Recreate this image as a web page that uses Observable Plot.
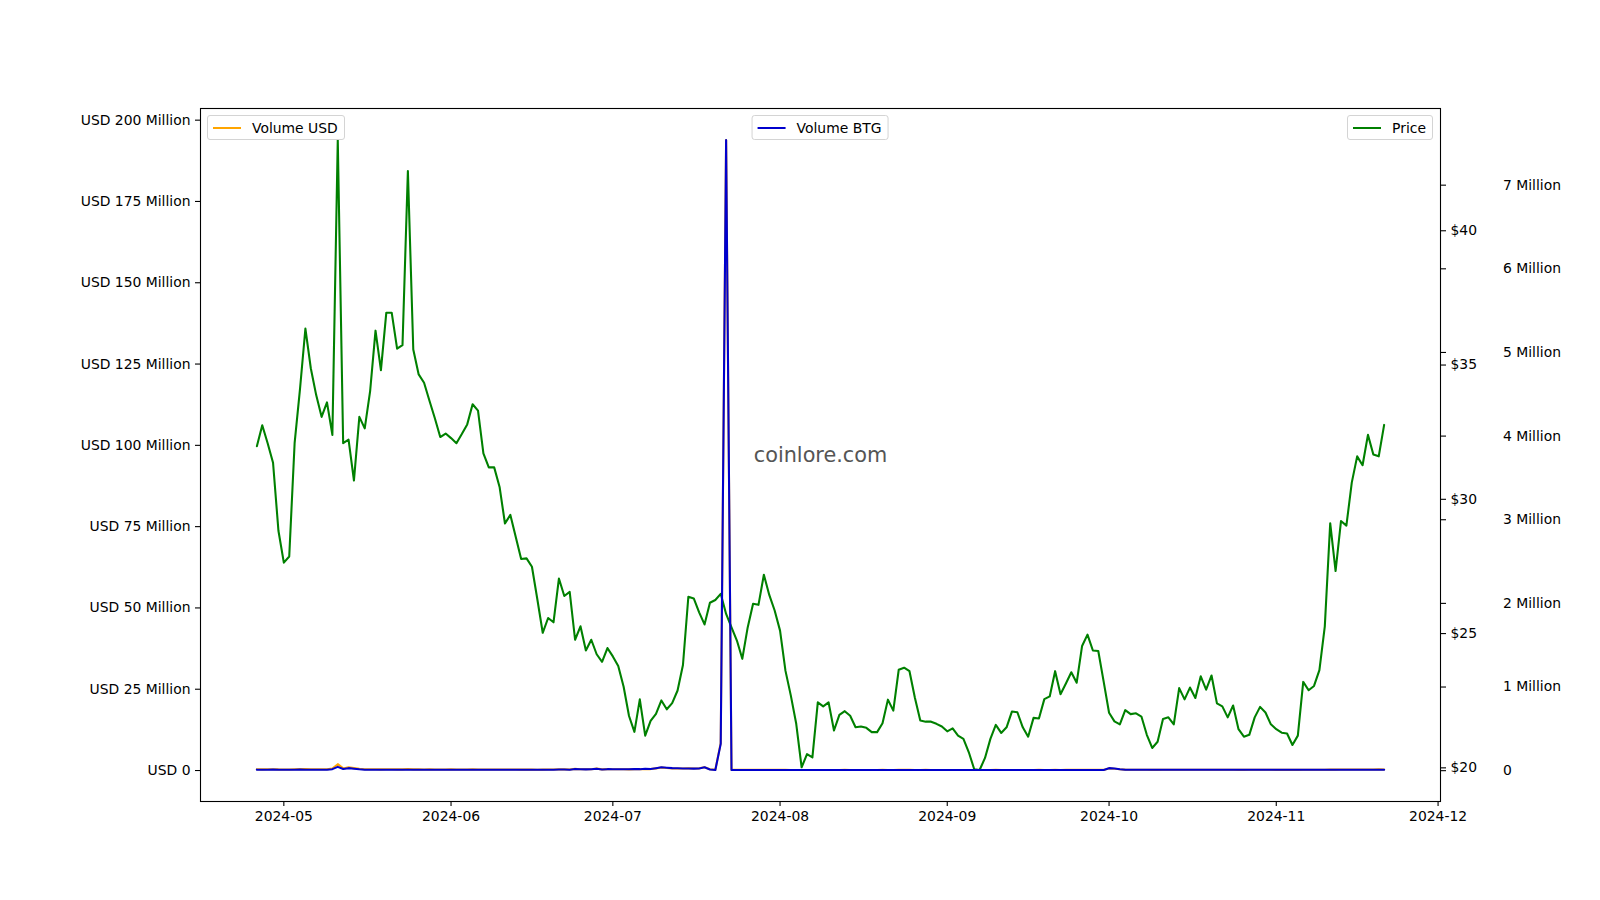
<!DOCTYPE html>
<html>
<head>
<meta charset="utf-8">
<script src="https://cdn.jsdelivr.net/npm/d3@7"></script>
<script src="https://cdn.jsdelivr.net/npm/@observablehq/plot@0.6"></script>
<style>
  html, body { margin: 0; padding: 0; background: #fff; }
  #wrap { position: relative; width: 1600px; height: 900px; overflow: hidden; font-family: "DejaVu Sans", sans-serif; }
  #wrap svg { position: absolute; left: 0; top: 0; }
  .leg { position: absolute; top: 115px; height: 25px; box-sizing: border-box; border: 1px solid #d4d4d4; border-radius: 3px;
         background: rgba(255,255,255,0.8); display: flex; align-items: center; padding: 0 6px 0 5px;
         font-family: "DejaVu Sans", sans-serif; font-size: 13.9px; color: #000; white-space: nowrap; z-index: 5; }
  .leg .h { display: inline-block; width: 28px; height: 2px; margin-right: 11px; }
</style>
</head>
<body>
<div id="wrap"></div>
<script>
// ---- data (daily, starting 2024-04-26) ----
const startDate = "2024-04-26";

const price = [
  31.98, 32.76, 32.09, 31.36, 28.83, 27.64, 27.87, 32.09, 34.11, 36.36,
  34.88, 33.88, 33.07, 33.61, 32.40, 43.38, 32.09, 32.22, 30.70, 33.07,
  32.64, 34.03, 36.28, 34.81, 36.95, 36.95, 35.61, 35.74, 42.22, 35.58,
  34.65, 34.34, 33.67, 33.02, 32.32, 32.45, 32.28, 32.09, 32.43, 32.79,
  33.54, 33.30, 31.71, 31.19, 31.19, 30.46, 29.10, 29.42, 28.60, 27.78,
  27.80, 27.49, 26.28, 25.03, 25.58, 25.42, 27.05, 26.40, 26.55, 24.77,
  25.27, 24.37, 24.77, 24.23, 23.95, 24.46, 24.15, 23.79, 23.02, 21.93,
  21.34, 22.55, 21.20, 21.75, 22.01, 22.51, 22.18, 22.41, 22.88, 23.83,
  26.37, 26.31, 25.79, 25.34, 26.15, 26.25, 26.48, 25.73, 25.23, 24.74,
  24.06, 25.23, 26.11, 26.07, 27.19, 26.44, 25.86, 25.11, 23.62, 22.69,
  21.64, 20.02, 20.51, 20.39, 22.44, 22.29, 22.44, 21.39, 21.97, 22.11,
  21.94, 21.51, 21.54, 21.49, 21.33, 21.33, 21.66, 22.54, 22.13, 23.65,
  23.73, 23.60, 22.61, 21.76, 21.72, 21.72, 21.64, 21.54, 21.36, 21.47,
  21.20, 21.08, 20.58, 19.95, 19.92, 20.37, 21.08, 21.60, 21.30, 21.51,
  22.10, 22.07, 21.51, 21.16, 21.86, 21.84, 22.56, 22.66, 23.60, 22.74,
  23.14, 23.56, 23.17, 24.54, 24.96, 24.37, 24.35, 23.21, 22.05, 21.73,
  21.62, 22.15, 22.00, 22.03, 21.91, 21.23, 20.74, 20.97, 21.82, 21.88,
  21.62, 22.97, 22.55, 22.99, 22.60, 23.41, 22.91, 23.44, 22.40, 22.29,
  21.88, 22.32, 21.44, 21.16, 21.23, 21.88, 22.27, 22.06, 21.62, 21.44,
  21.31, 21.28, 20.85, 21.20, 23.20, 22.89, 23.05, 23.64, 25.27, 29.11,
  27.33, 29.19, 29.02, 30.62, 31.60, 31.27, 32.40, 31.67, 31.60, 32.77
];

// Volume in BTG units, millions
const volumeBTG = [
  0.012, 0.011, 0.012, 0.013, 0.012, 0.012, 0.011, 0.012, 0.013, 0.012,
  0.011, 0.012, 0.012, 0.011, 0.018, 0.045, 0.020, 0.030, 0.024, 0.016,
  0.012, 0.011, 0.011, 0.010, 0.010, 0.011, 0.010, 0.010, 0.011, 0.010,
  0.010, 0.010, 0.011, 0.010, 0.010, 0.010, 0.011, 0.010, 0.010, 0.010,
  0.011, 0.010, 0.010, 0.010, 0.011, 0.010, 0.010, 0.010, 0.011, 0.010,
  0.010, 0.011, 0.010, 0.011, 0.012, 0.012, 0.013, 0.014, 0.012, 0.020,
  0.016, 0.015, 0.016, 0.024, 0.015, 0.018, 0.017, 0.016, 0.017, 0.016,
  0.020, 0.018, 0.022, 0.020, 0.030, 0.040, 0.035, 0.030, 0.028, 0.026,
  0.025, 0.024, 0.026, 0.040, 0.015, 0.008, 0.320, 7.540, 0.008, 0.008,
  0.008, 0.008, 0.009, 0.008, 0.008, 0.008, 0.008, 0.009, 0.008, 0.008,
  0.008, 0.008, 0.008, 0.009, 0.008, 0.008, 0.008, 0.008, 0.008, 0.009,
  0.008, 0.008, 0.008, 0.008, 0.008, 0.008, 0.009, 0.008, 0.008, 0.008,
  0.008, 0.008, 0.008, 0.008, 0.009, 0.008, 0.008, 0.008, 0.008, 0.008,
  0.008, 0.008, 0.008, 0.008, 0.008, 0.008, 0.008, 0.009, 0.008, 0.008,
  0.008, 0.008, 0.008, 0.008, 0.008, 0.009, 0.008, 0.008, 0.008, 0.008,
  0.008, 0.008, 0.008, 0.008, 0.009, 0.008, 0.008, 0.008, 0.030, 0.026,
  0.018, 0.012, 0.010, 0.010, 0.010, 0.011, 0.010, 0.010, 0.010, 0.010,
  0.010, 0.010, 0.011, 0.010, 0.010, 0.010, 0.010, 0.011, 0.010, 0.010,
  0.010, 0.010, 0.010, 0.010, 0.011, 0.010, 0.010, 0.010, 0.010, 0.010,
  0.010, 0.011, 0.010, 0.010, 0.010, 0.010, 0.011, 0.010, 0.010, 0.011,
  0.010, 0.010, 0.011, 0.010, 0.010, 0.011, 0.010, 0.010, 0.011, 0.010
];

// Volume in USD, millions
const volumeUSD = [
  0.38, 0.36, 0.39, 0.41, 0.35, 0.33, 0.31, 0.39, 0.44, 0.44,
  0.38, 0.41, 0.40, 0.37, 0.58, 1.95, 0.64, 0.97, 0.74, 0.53,
  0.39, 0.37, 0.40, 0.35, 0.37, 0.41, 0.36, 0.36, 0.46, 0.36,
  0.35, 0.34, 0.37, 0.33, 0.32, 0.32, 0.36, 0.32, 0.32, 0.33,
  0.37, 0.33, 0.32, 0.31, 0.34, 0.30, 0.29, 0.29, 0.31, 0.28,
  0.28, 0.30, 0.26, 0.28, 0.31, 0.31, 0.35, 0.37, 0.32, 0.50,
  0.40, 0.37, 0.40, 0.58, 0.36, 0.44, 0.41, 0.38, 0.39, 0.35,
  0.43, 0.41, 0.47, 0.44, 0.66, 0.90, 0.78, 0.67, 0.64, 0.62,
  0.66, 0.63, 0.67, 1.01, 0.39, 0.21, 8.47, 193.90, 0.20, 0.20,
  0.19, 0.20, 0.23, 0.21, 0.22, 0.21, 0.21, 0.23, 0.19, 0.18,
  0.17, 0.16, 0.16, 0.18, 0.18, 0.18, 0.18, 0.17, 0.18, 0.20,
  0.18, 0.17, 0.17, 0.17, 0.17, 0.17, 0.19, 0.18, 0.18, 0.19,
  0.19, 0.19, 0.18, 0.17, 0.20, 0.17, 0.17, 0.17, 0.17, 0.17,
  0.17, 0.17, 0.16, 0.16, 0.16, 0.16, 0.17, 0.19, 0.17, 0.17,
  0.18, 0.18, 0.17, 0.17, 0.17, 0.20, 0.18, 0.18, 0.19, 0.18,
  0.19, 0.19, 0.19, 0.20, 0.22, 0.19, 0.19, 0.19, 0.66, 0.56,
  0.39, 0.27, 0.22, 0.22, 0.22, 0.23, 0.21, 0.21, 0.22, 0.22,
  0.22, 0.23, 0.25, 0.23, 0.23, 0.23, 0.23, 0.26, 0.22, 0.22,
  0.22, 0.22, 0.21, 0.21, 0.23, 0.22, 0.22, 0.22, 0.22, 0.21,
  0.21, 0.23, 0.21, 0.21, 0.23, 0.23, 0.25, 0.24, 0.25, 0.32,
  0.27, 0.29, 0.32, 0.31, 0.32, 0.34, 0.32, 0.32, 0.35, 0.33
];

const usdTicks = [0, 25, 50, 75, 100, 125, 150, 175, 200];
const priceTicks = [20, 25, 30, 35, 40];
const btgTicks = [0, 1, 2, 3, 4, 5, 6, 7];
const watermark = "coinlore.com";

// ---- build rows ----
const t0 = Date.parse(startDate + "T00:00:00Z");
const rows = price.map((p, i) => ({
  date: new Date(t0 + i * 864e5),
  price: p,
  btg: volumeBTG[i],
  usd: volumeUSD[i]
}));

// matplotlib-like 5% margins
function pad([lo, hi]) { const r = hi - lo; return [lo - 0.05 * r, hi + 0.05 * r]; }
const xExt = pad([+rows[0].date, +rows[rows.length - 1].date]);
const xDomain = xExt.map(t => new Date(t));
const usdDomain = pad(d3.extent(volumeUSD));
const priceDomain = pad(d3.extent(price));
const btgDomain = pad(d3.extent(volumeBTG));
const monthTicks = d3.utcMonth.range(d3.utcMonth.ceil(xDomain[0]), xDomain[1]);

const common = {
  width: 1600, height: 900,
  marginLeft: 200, marginRight: 160, marginTop: 108, marginBottom: 99
};
const style = { fontFamily: "DejaVu Sans, sans-serif", fontSize: "13.9px", background: "transparent", color: "#000", overflow: "visible" };

const wrap = document.getElementById("wrap");

// Layer 1: Volume USD (left axis), x axis, frame
const p1 = Plot.plot({
  ...common, style,
  x: { type: "utc", domain: xDomain },
  y: { domain: usdDomain },
  marks: [
    Plot.lineY(rows, { x: "date", y: "usd", stroke: "orange", strokeWidth: 2.08 }),
    Plot.axisX(monthTicks, { tickFormat: d3.utcFormat("%Y-%m"), tickSize: 5, tickPadding: 5, label: null, strokeWidth: 1.1 }),
    Plot.axisY(usdTicks, { anchor: "left", tickFormat: d => d === 0 ? "USD 0" : `USD ${d} Million`, tickSize: 5, tickPadding: 5, label: null, strokeWidth: 1.1 }),
    Plot.frame({ stroke: "#000", strokeWidth: 1.1 })
  ]
});

// Layer 2: Price (inner right axis)
const p2 = Plot.plot({
  ...common, style,
  x: { type: "utc", domain: xDomain, axis: null },
  y: { domain: priceDomain },
  marks: [
    Plot.lineY(rows, { x: "date", y: "price", stroke: "green", strokeWidth: 2.08 }),
    Plot.axisY(priceTicks, { anchor: "right", tickFormat: d => "$" + d, tickSize: 5, tickPadding: 5, label: null, strokeWidth: 1.1 })
  ]
});

// Layer 3: Volume BTG (outer right labels)
const p3 = Plot.plot({
  ...common, style,
  x: { type: "utc", domain: xDomain, axis: null },
  y: { domain: btgDomain },
  marks: [
    Plot.lineY(rows, { x: "date", y: "btg", stroke: "mediumblue", strokeWidth: 2.08 }),
    Plot.axisY(btgTicks, { anchor: "right", tickFormat: d => d === 0 ? "0" : `${d} Million`, tickSize: 5, tickPadding: 57.5, label: null, strokeWidth: 1.1 }),
    Plot.text([watermark], { frameAnchor: "middle", text: d => d, fontSize: 20.8, fill: "#555", fontFamily: "DejaVu Sans, sans-serif" })
  ]
});

wrap.append(p1, p2, p3);

// Legends
function legend(label, color, css) {
  const d = document.createElement("div");
  d.className = "leg";
  Object.assign(d.style, css);
  const h = document.createElement("span");
  h.className = "h";
  h.style.background = color;
  const t = document.createElement("span");
  t.textContent = label;
  d.append(h, t);
  wrap.append(d);
}
legend("Volume USD", "orange", { left: "207px" });
legend("Volume BTG", "mediumblue", { left: "820px", transform: "translateX(-50%)" });
legend("Price", "green", { right: "167px" });
</script>
</body>
</html>
